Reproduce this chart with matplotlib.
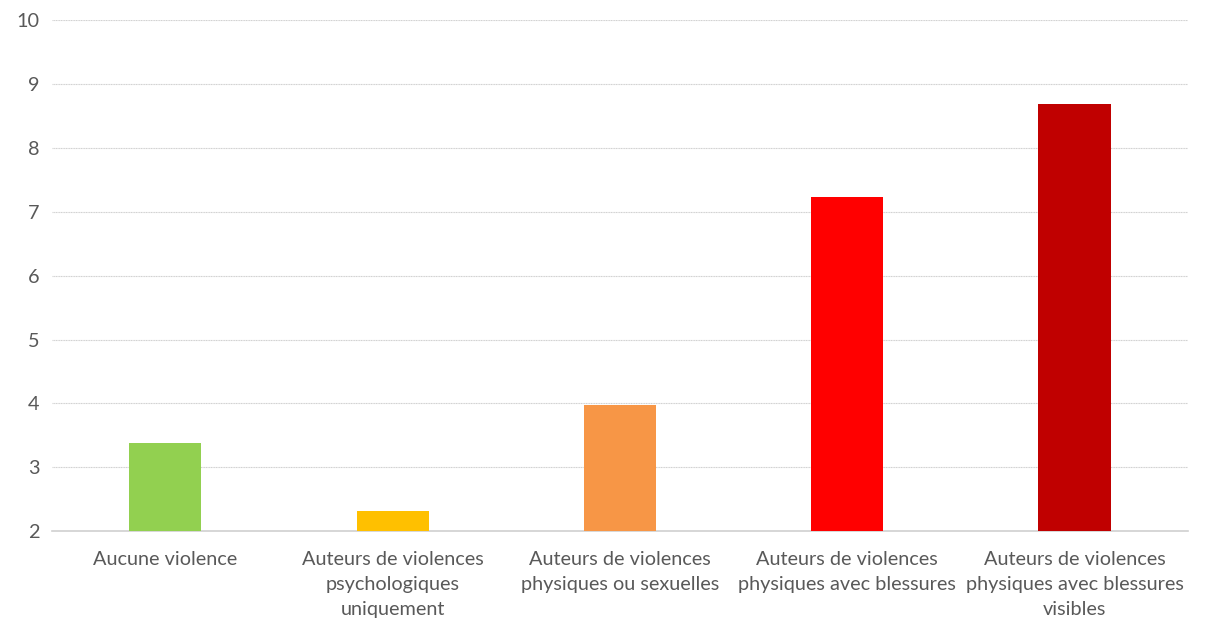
import matplotlib
matplotlib.use("Agg")
import matplotlib.pyplot as plt
import numpy as np

plt.rcParams['font.family'] = ['Lato', 'DejaVu Sans']

categories = ["Aucune violence",
              "Auteurs de violences\npsychologiques\nuniquement",
              "Auteurs de violences\nphysiques ou sexuelles",
              "Auteurs de violences\nphysiques avec blessures",
              "Auteurs de violences\nphysiques avec blessures\nvisibles"]
values = [3.38, 2.32, 3.97, 7.23, 8.68]
colors = ["#92D050", "#FFC000", "#F79646", "#FF0000", "#C00000"]

fig = plt.figure(figsize=(12.05, 6.25), dpi=100)
ax = fig.add_axes([0.043, 0.150, 0.943, 0.818])

x = np.arange(len(categories))
ax.bar(x, np.array(values) - 2, bottom=2, width=0.317, color=colors, zorder=3)

ax.set_xlim(-0.5, len(categories) - 0.5)
ax.set_ylim(2, 10)
ax.set_yticks(range(2, 11))
ax.set_xticks(x)
ax.set_xticklabels(categories, linespacing=1.58)
ax.grid(axis='y', color='#d0d0d0', linewidth=0.8, linestyle=(0, (1, 0.5)), zorder=0)

for s in ['top', 'right', 'left']:
    ax.spines[s].set_visible(False)
ax.spines['bottom'].set_color('#d0d0d0')
ax.spines['bottom'].set_linewidth(1.2)
ax.tick_params(axis='both', length=0, labelsize=14.3, colors='#595959')
ax.tick_params(axis='y', pad=9)
ax.tick_params(axis='x', pad=14)

fig.savefig("out.png", dpi=100)
